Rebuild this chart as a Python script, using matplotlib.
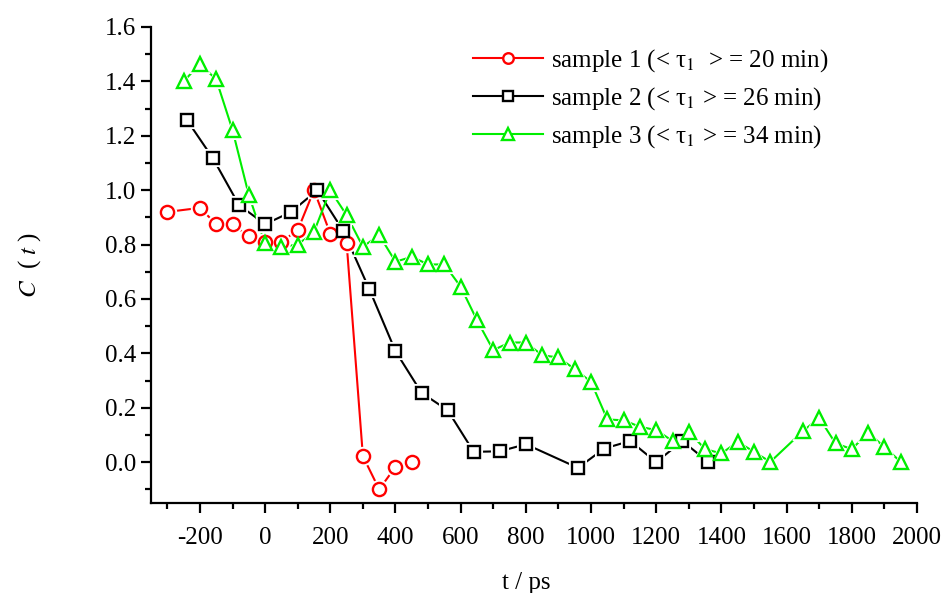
import matplotlib
matplotlib.use("Agg")
import matplotlib.pyplot as plt
from matplotlib.ticker import MultipleLocator, FormatStrFormatter

plt.rcParams['font.family'] = ['Liberation Serif', 'DejaVu Serif']
plt.rcParams['mathtext.fontset'] = 'stix'
plt.rcParams['axes.unicode_minus'] = False

# sample 1 (red circles)
t1 = [-300, -200, -150, -100, -50, 0, 50, 100, 150, 200, 250, 300, 350, 400, 450]
c1 = [0.92, 0.935, 0.875, 0.875, 0.83, 0.81, 0.81, 0.853, 1.0, 0.84, 0.807,
      0.022, -0.10, -0.017, 0.0]

# sample 2 (black squares)
t2 = [-240, -160, -80, 0, 80, 160, 240, 320, 400, 480, 560, 640, 720, 800,
      960, 1040, 1120, 1200, 1280, 1360]
c2 = [1.258, 1.117, 0.945, 0.875, 0.92, 1.0, 0.85, 0.635, 0.408, 0.255, 0.191,
      0.038, 0.04, 0.066, -0.021, 0.05, 0.078, 0.0, 0.078, 0.0]

# sample 3 (green triangles)
t3 = [-250, -200, -150, -100, -50, 0, 50, 100, 150, 200, 250, 300, 350, 400,
      450, 500, 550, 600, 650, 700, 750, 800, 850, 900, 950, 1000, 1050, 1100,
      1150, 1200, 1250, 1300, 1350, 1400, 1450, 1500, 1550,
      1650, 1700, 1750, 1800, 1850, 1900, 1950]
c3 = [1.40, 1.464, 1.407, 1.221, 0.982, 0.804, 0.792, 0.80, 0.847, 1.0, 0.908,
      0.792, 0.835, 0.737, 0.755, 0.727, 0.727, 0.645, 0.522, 0.412, 0.44, 0.44,
      0.393, 0.385, 0.342, 0.295, 0.157, 0.154, 0.13, 0.118, 0.078, 0.111,
      0.048, 0.032, 0.075, 0.038, 0.001, 0.114, 0.163, 0.069, 0.048, 0.108,
      0.056, 0.001]

labels = ['sample 1 (< τ$_1$  > = 20 min)',
          'sample 2 (< τ$_1$ > = 26 min)',
          'sample 3 (< τ$_1$ > = 34 min)']

series = [(t1, c1, '#FF0000', 'o', 9.5),
          (t2, c2, '#000000', 's', 9),
          (t3, c3, '#00EE00', '^', 10)]

fs = 18

fig = plt.figure(figsize=(9.44, 5.93), dpi=100)
ax = fig.add_axes([0.16, 0.1518, 0.8114, 0.8027])

for (t, c, col, mk, ms), lab in zip(series, labels):
    ax.plot(t, c, '-', color=col, lw=1.5, zorder=2)
    # white halo so the line stops short of each marker
    ax.plot(t, c, mk, ls='none', ms=ms + 3, mfc='white', mec='white', mew=1.5, zorder=3)
    ax.plot(t, c, mk, ls='none', ms=ms, mfc='white', mec=col, mew=1.7, zorder=4)
    ax.plot([], [], '-', color=col, lw=1.5, marker=mk, ms=ms * 0.8,
            mfc='white', mec=col, mew=1.7, label=lab)

ax.set_xlim(-350, 2000)
ax.set_ylim(-0.15, 1.6)
ax.set_xticks(range(-200, 2001, 200))
ax.xaxis.set_minor_locator(MultipleLocator(100))
ax.yaxis.set_major_locator(MultipleLocator(0.2))
ax.yaxis.set_minor_locator(MultipleLocator(0.1))
ax.yaxis.set_major_formatter(FormatStrFormatter('%.1f'))

for s in ['top', 'right']:
    ax.spines[s].set_visible(False)
for s in ['left', 'bottom']:
    ax.spines[s].set_linewidth(1.6)

ax.tick_params(which='major', direction='out', length=7.5, width=1.6, labelsize=fs)
ax.tick_params(which='minor', direction='out', length=4, width=1.6)
ax.tick_params(axis='x', pad=10)

ax.set_xlabel('t / ps', fontsize=fs, labelpad=16)
ax.xaxis.label.set_x(0.49)
ax.set_ylabel('$C$  ( $t$ )', fontsize=fs, labelpad=44)

ax.legend(loc='upper left', bbox_to_anchor=(0.391, 1.005), frameon=False,
          fontsize=fs, handlelength=2.8, handletextpad=0.3, labelspacing=0.45)

fig.savefig('out.png', dpi=100)
